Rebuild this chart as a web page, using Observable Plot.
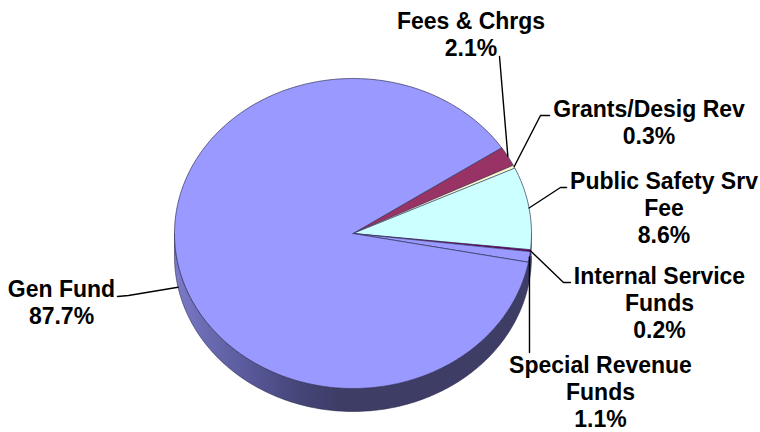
<!DOCTYPE html>
<html>
<head>
<meta charset="utf-8">
<script src="https://cdn.jsdelivr.net/npm/d3@7"></script>
<script src="https://cdn.jsdelivr.net/npm/@observablehq/plot@0.6"></script>
<style>
  html, body { margin: 0; padding: 0; background: #fff; }
  svg { display: block; }
</style>
</head>
<body>
<div id="chart"></div>
<script>
// Revenue shares, clockwise starting from the Fees & Chrgs wedge
const categories = ["Fees & Chrgs", "Grants/Desig Rev", "Public Safety Srv\nFee", "Internal Service\nFunds", "Special Revenue\nFunds", "Gen Fund"];
const shares = [2.1, 0.3, 8.6, 0.2, 1.1, 87.7];
const sliceColors = ["#993366", "#FFFFCC", "#CCFFFF", "#660066", "#9999FF", "#9999FF"];

// Label placement: block centre, then the leader's elbow and end points
const labelCentres = [[470.5, 33], [648.5, 121.5], [663.5, 206.5], [659, 301.5], [600, 391], [61, 301]];
const leaderBends = [
  [[499, 56]],
  [[540, 115], [549, 115]],
  [[560, 187], [566, 187]],
  [[563, 282], [570, 282]],
  [[529, 352]],
  [[128, 295], [117, 296]]
];

// Pie proportions on the page
const cx = 352.5, cy = 233, rx = 178.5, ry = 155, depth = 23;
const firstAngle = 56.4;

const rad = (deg) => (deg * Math.PI) / 180;
const rim = (deg, drop = 0) => ({
  px: cx + rx * Math.sin(rad(deg)),
  py: cy + drop - ry * Math.cos(rad(deg))
});
const arcPoints = (a0, a1, drop = 0) => {
  const n = Math.max(2, Math.ceil(Math.abs(a1 - a0)));
  return d3.range(n + 1).map((i) => rim(a0 + ((a1 - a0) * i) / n, drop));
};

// Wedge extents from the shares
const pie = d3.pie().sort(null).value((d) => d)
  .startAngle(rad(firstAngle)).endAngle(rad(firstAngle + 360));
const wedges = pie(shares).map((a, i) => {
  const start = (a.startAngle * 180) / Math.PI;
  const end = (a.endAngle * 180) / Math.PI;
  return {
    name: categories[i],
    share: shares[i],
    color: sliceColors[i],
    start, end, mid: (start + end) / 2,
    points: [{ px: cx, py: cy }, ...arcPoints(start, end), { px: cx, py: cy }]
  };
});

// Front wall of the disc: the lower half of the rim, extruded downward
const wall = [...arcPoints(90, 270), ...arcPoints(270, 90, depth)];

const labels = wedges.map((w, i) => ({
  text: `${w.name}\n${w.share.toFixed(1)}%`,
  px: labelCentres[i][0],
  py: labelCentres[i][1]
}));

const leaders = wedges.map((w, i) => {
  // The Gen Fund leader lands on the wall, the others on the top face
  const drop = w.name === "Gen Fund" ? depth : 0;
  return [rim(w.mid, drop), ...leaderBends[i].map(([px, py]) => ({ px, py }))];
});

const wallShade = () => {
  const defs = d3.create("svg:defs");
  const g = defs.append("linearGradient").attr("id", "wallShade");
  [[0, "#7b7bca"], [0.08, "#6c6cb4"], [0.21, "#58589a"], [0.35, "#454578"], [0.47, "#3d3d66"], [1, "#3d3d66"]]
    .forEach(([o, c]) => g.append("stop").attr("offset", o).attr("stop-color", c));
  return defs.node();
};

const chart = Plot.plot({
  width: 760,
  height: 432,
  margin: 0,
  x: { domain: [0, 760], range: [0, 760], axis: null },
  y: { domain: [0, 432], range: [0, 432], axis: null },
  style: { background: "#fff" },
  marks: [
    wallShade,
    Plot.line(wall, { x: "px", y: "py", fill: "url(#wallShade)", stroke: "#2c2c50", strokeWidth: 0.6 }),
    ...wedges.map((w) =>
      Plot.line(w.points, { x: "px", y: "py", fill: w.color, stroke: "#33335a", strokeWidth: w.share < 1 ? 0.3 : 0.7 })
    ),
    ...leaders.map((l) =>
      Plot.line(l, { x: "px", y: "py", stroke: "#000", strokeWidth: 1.4 })
    ),
    Plot.text(labels, {
      x: "px",
      y: "py",
      text: "text",
      fontFamily: "Liberation Sans",
      fontWeight: "bold",
      fontSize: 23,
      lineHeight: 27 / 23,
      fill: "#000",
      textAnchor: "middle"
    })
  ]
});
document.getElementById("chart").append(chart);
</script>
</body>
</html>
